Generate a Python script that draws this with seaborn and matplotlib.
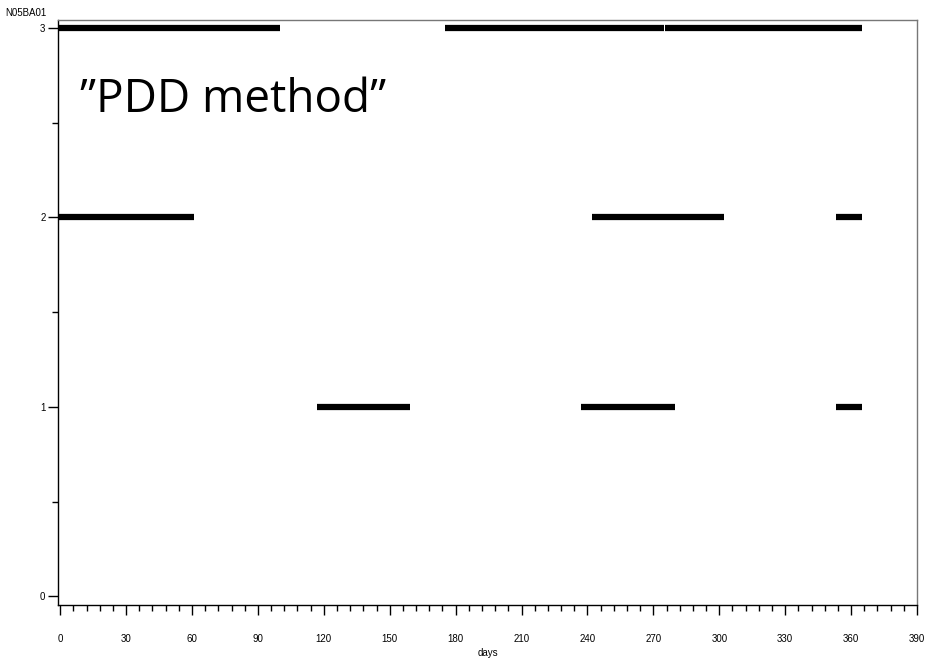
import numpy as np
import pandas as pd
import matplotlib
matplotlib.use("Agg")
import matplotlib.pyplot as plt
from matplotlib.ticker import MultipleLocator
import seaborn as sns

# treatment periods (days) per dose level
seg_level = [3, 3, 3, 2, 2, 2, 1, 1, 1]
seg_start = [-0.5, 175, 275.2, -0.5, 242, 353, 117, 237, 353]
seg_end = [100, 274.8, 365, 61, 302, 365, 159, 280, 365]

x_ticks = [0, 30, 60, 90, 120, 150, 180, 210, 240, 270, 300, 330, 360, 390]
y_ticks = [0, 1, 2, 3]

rows = []
for i, (lv, s, e) in enumerate(zip(seg_level, seg_start, seg_end)):
    rows.append({"seg": i, "day": s, "level": lv})
    rows.append({"seg": i, "day": e, "level": lv})
df = pd.DataFrame(rows)

sns.set_style("white")
plt.rcParams['font.family'] = ['Liberation Sans', 'DejaVu Sans']
plt.rcParams['text.color'] = 'black'
plt.rcParams['xtick.labelcolor'] = 'black'
plt.rcParams['ytick.labelcolor'] = 'black'
plt.rcParams['axes.labelcolor'] = 'black'

fig = plt.figure(figsize=(9.25, 6.64), dpi=100)
ax = fig.add_axes([58 / 925, 1 - 605 / 664, (917 - 58) / 925, (605 - 20) / 664])

sns.lineplot(data=df, x="day", y="level", units="seg", estimator=None,
             color="black", lw=4.5, solid_capstyle="butt", ax=ax, legend=False)

ax.set_xlim(-1, 390)
ax.set_ylim(-0.045, 3.042)
ax.set_xticks(x_ticks)
ax.set_yticks(y_ticks)
ax.xaxis.set_minor_locator(MultipleLocator(6))
ax.yaxis.set_minor_locator(MultipleLocator(0.5))
ax.tick_params(axis="both", which="major", direction="out", length=7, width=1,
               labelsize=7, color="black", bottom=True, left=True)
ax.tick_params(axis="both", which="minor", direction="out", length=4, width=1,
               color="black", bottom=True, left=True)
ax.tick_params(axis="x", pad=14)
ax.tick_params(axis="y", pad=2)
for sp in ax.spines.values():
    sp.set_color("black")
    sp.set_linewidth(1)
ax.spines["top"].set_color("#777777")
ax.spines["right"].set_color("#777777")

ax.set_xlabel("days", fontsize=7, labelpad=3)
ax.set_ylabel("")
fig.text(5 / 925, 1 - 13 / 664, "N05BA01", fontsize=7, va="center", ha="left")

ax.text(9, 2.62, "\u201dPDD method\u201d", fontsize=33, family=['Open Sans', 'DejaVu Sans'],
        va="center", ha="left")

plt.savefig("out.png", dpi=100)
